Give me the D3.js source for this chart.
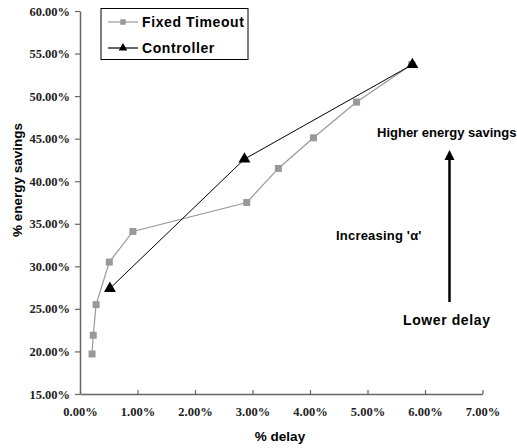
<!DOCTYPE html>
<html>
<head>
<meta charset="utf-8">
<script src="https://cdn.jsdelivr.net/npm/d3@7"></script>
<style>
  body { margin: 0; background: #fff; }
  svg { display: block; }
  .lbl { font-family: "Liberation Sans", Arial, sans-serif; font-weight: bold; fill: #000; }
  .tick text { font-family: "Liberation Serif", "Times New Roman", serif; }
</style>
</head>
<body>
<div id="chart"></div>
<script>
// Fixed Timeout series (% delay, % energy savings)
const fixedDelay = [0.21, 0.23, 0.28, 0.51, 0.92, 2.90, 3.45, 4.06, 4.81, 5.77];
const fixedSavings = [19.7, 21.9, 25.5, 30.5, 34.1, 37.5, 41.5, 45.1, 49.3, 53.7];
// Controller series
const ctrlDelay = [0.52, 2.86, 5.78];
const ctrlSavings = [27.4, 42.6, 53.7];

const xTicks = [0, 1, 2, 3, 4, 5, 6, 7];
const yTicks = [15, 20, 25, 30, 35, 40, 45, 50, 55, 60];
const seriesNames = ["Fixed Timeout", "Controller"];

const W = 517, H = 448;
const margin = {top: 11, right: 34.5, bottom: 54, left: 80};

const svg = d3.select("#chart").append("svg")
    .attr("width", W)
    .attr("height", H);

const x = d3.scaleLinear()
    .domain([0, 7])
    .range([margin.left, W - margin.right]);
const y = d3.scaleLinear()
    .domain([15, 60])
    .range([H - margin.bottom, margin.top]);

const pct = (d) => d.toFixed(2) + "%";

// Axes
const xAxis = svg.append("g")
    .attr("transform", `translate(0,${y(15)})`)
    .call(d3.axisBottom(x).tickValues(xTicks).tickFormat(pct).tickSizeInner(-4).tickSizeOuter(0).tickPadding(13));
const yAxis = svg.append("g")
    .attr("transform", `translate(${x(0)},0)`)
    .call(d3.axisLeft(y).tickValues(yTicks).tickFormat(pct).tickSizeInner(5).tickSizeOuter(0).tickPadding(5));

[xAxis, yAxis].forEach((g) => {
  g.attr("font-size", 12.5)
      .attr("font-weight", "bold");
  g.select(".domain").attr("stroke", "#666").attr("stroke-width", 1.5);
  g.selectAll(".tick line").attr("stroke", "#666").attr("stroke-width", 1.2);
  g.selectAll(".tick text").attr("fill", "#222");
});

// Axis titles
svg.append("text")
    .attr("class", "lbl")
    .attr("x", 280).attr("y", 441)
    .attr("text-anchor", "middle")
    .attr("font-size", 13.5)
    .text("% delay");
svg.append("text")
    .attr("class", "lbl")
    .attr("transform", "translate(22,180) rotate(-90)")
    .attr("text-anchor", "middle")
    .attr("font-size", 13.5)
    .text("% energy savings");

// Lines
const fixedData = fixedDelay.map((d, i) => [d, fixedSavings[i]]);
const ctrlData = ctrlDelay.map((d, i) => [d, ctrlSavings[i]]);
const line = d3.line().x((d) => x(d[0])).y((d) => y(d[1]));

svg.append("path")
    .datum(fixedData)
    .attr("fill", "none")
    .attr("stroke", "#999")
    .attr("stroke-width", 1.2)
    .attr("d", line);
svg.append("path")
    .datum(ctrlData)
    .attr("fill", "none")
    .attr("stroke", "#000")
    .attr("stroke-width", 1)
    .attr("d", line);

const square = d3.symbol().type(d3.symbolSquare).size(49);
const triangle = d3.symbol().type(d3.symbolTriangle).size(62);

svg.append("g").selectAll("path")
    .data(fixedData)
    .enter().append("path")
    .attr("d", square)
    .attr("fill", "#999")
    .attr("transform", (d) => `translate(${x(d[0])},${y(d[1])})`);
svg.append("g").selectAll("path")
    .data(ctrlData)
    .enter().append("path")
    .attr("d", triangle)
    .attr("fill", "#000")
    .attr("transform", (d) => `translate(${x(d[0])},${y(d[1])})`);

// Legend
const legend = svg.append("g").attr("transform", "translate(101,8.5)");
legend.append("rect")
    .attr("width", 147).attr("height", 51)
    .attr("fill", "#fff").attr("stroke", "#000").attr("stroke-width", 1);
const legendStyle = [
  {stroke: "#999", fill: "#999", sym: d3.symbol().type(d3.symbolSquare).size(30)},
  {stroke: "#000", fill: "#000", sym: d3.symbol().type(d3.symbolTriangle).size(32)}
];
seriesNames.forEach((name, i) => {
  const ly = 13.5 + i * 26;
  legend.append("line")
      .attr("x1", 7).attr("x2", 37).attr("y1", ly).attr("y2", ly)
      .attr("stroke", legendStyle[i].stroke).attr("stroke-width", 1.2);
  legend.append("path")
      .attr("d", legendStyle[i].sym)
      .attr("fill", legendStyle[i].fill)
      .attr("transform", `translate(22,${ly})`);
  legend.append("text")
      .attr("class", "lbl")
      .attr("x", 41).attr("y", ly + 5)
      .attr("font-size", 14)
      .attr("letter-spacing", 0.6)
      .text(name);
});

// Annotations
svg.append("text")
    .attr("class", "lbl")
    .attr("x", 377).attr("y", 137)
    .attr("font-size", 13)
    .attr("letter-spacing", 0)
    .text("Higher energy savings");
svg.append("text")
    .attr("class", "lbl")
    .attr("x", 336).attr("y", 240)
    .attr("font-size", 13)
    .attr("letter-spacing", 0.2)
    .text("Increasing 'α'");
svg.append("text")
    .attr("class", "lbl")
    .attr("x", 403).attr("y", 325)
    .attr("font-size", 14)
    .attr("letter-spacing", 0.6)
    .text("Lower delay");

svg.append("line")
    .attr("x1", 449.5).attr("x2", 449.5)
    .attr("y1", 302).attr("y2", 158)
    .attr("stroke", "#000").attr("stroke-width", 2.5);
svg.append("path")
    .attr("d", "M449.5,150 L444.5,160 L454.5,160 Z")
    .attr("fill", "#000");
</script>
</body>
</html>
